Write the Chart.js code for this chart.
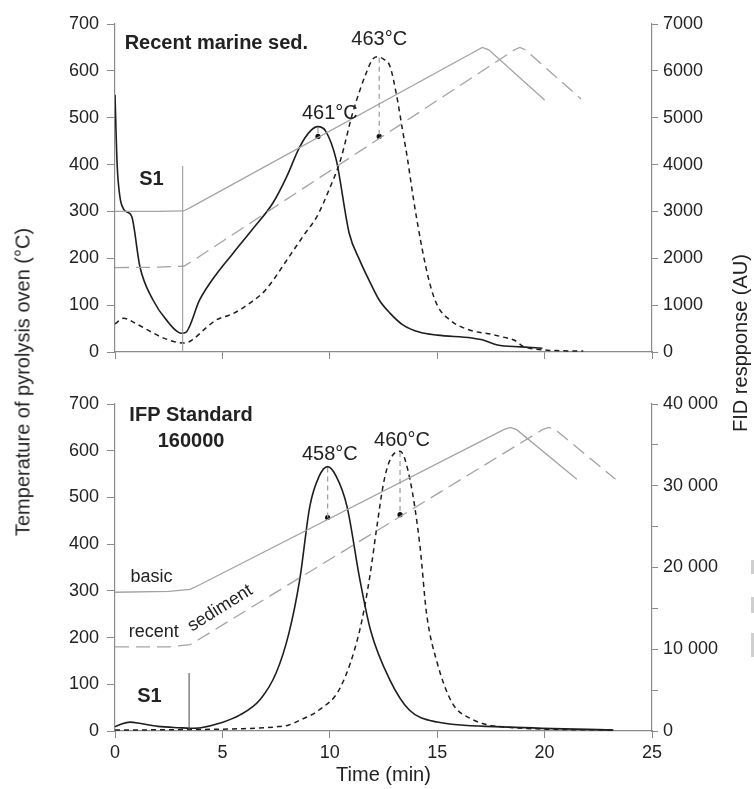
<!DOCTYPE html>
<html>
<head>
<meta charset="utf-8">
<script src="https://cdn.jsdelivr.net/npm/chart.js@4.4.0/dist/chart.umd.min.js"></script>
<style>
  html, body { margin: 0; padding: 0; background: #fff; }
  #wrap { position: relative; width: 754px; height: 789px; overflow: hidden; font-family: "Liberation Sans", Arial, sans-serif; color: #222; }
  .panel { position: absolute; left: 0; width: 754px; }
  .vtitle { position: absolute; font-size: 20px; white-space: nowrap; transform: translate(-50%, -50%) rotate(-90deg); }
  .stub { position: absolute; left: 751px; width: 3px; background: #cfcfcf; }
</style>
</head>
<body>
<div id="wrap">
  <div class="panel" style="top:0;height:380px"><canvas id="topChart"></canvas></div>
  <div class="panel" style="top:380px;height:409px"><canvas id="bottomChart"></canvas></div>
  <div class="vtitle" style="left:23px;top:382px">Temperature of pyrolysis oven (°C)</div>
  <div class="vtitle" style="left:740px;top:343px">FID respponse (AU)</div>
  <div class="stub" style="top:560px;height:14px"></div>
  <div class="stub" style="top:597px;height:16px"></div>
  <div class="stub" style="top:633px;height:24px"></div>
</div>
<script>
// ---- top panel: recent marine sediment ----
const topBasicTime = [0, 2.0, 3.2, 3.5, 16.9, 17.1, 17.4, 20.0];
const topBasicTemp = [300, 300, 301, 308, 645, 650, 645, 538];
const topRecentTime = [0, 2.0, 3.2, 3.6, 18.6, 18.85, 19.1, 21.7];
const topRecentTemp = [180, 181, 183, 194, 645, 650, 645, 540];

const topFidTime = [0, 0.1, 0.23, 0.4, 0.55, 0.78, 1.16, 1.77, 2.4, 3.1, 3.3, 3.94, 4.7, 5.5, 6.4, 7.35, 8.0, 8.6, 9.1, 9.45, 9.8, 10.3, 10.9, 11.4, 11.86, 12.3, 12.8, 13.4, 14.2, 15.0, 16.6, 17.1, 17.8, 18.9, 19.9];
const topFidSolid = [5490, 4000, 3310, 3050, 2990, 2890, 1820, 1110, 680, 400, 420, 1110, 1650, 2110, 2620, 3180, 3750, 4380, 4720, 4810, 4720, 4100, 2540, 1950, 1500, 1110, 830, 580, 420, 360, 300, 260, 150, 110, 80];

const topDashTime = [0, 0.4, 1.0, 1.6, 2.3, 3.25, 3.6, 4.2, 4.7, 5.5, 6.3, 7.0, 8.1, 8.8, 9.4, 10.0, 10.5, 11.07, 11.7, 12.0, 12.2, 12.5, 12.8, 13.1, 13.4, 13.6, 13.9, 14.3, 14.65, 15.0, 15.6, 16.5, 17.5, 18.05, 18.6, 19.0, 19.6, 20.5, 21.8];
const topFidDashed = [600, 720, 600, 450, 290, 190, 260, 500, 680, 820, 1050, 1320, 2030, 2500, 2890, 3500, 4100, 5110, 5960, 6250, 6300, 6250, 6100, 5500, 4700, 4170, 3250, 2200, 1470, 1000, 680, 470, 380, 320, 250, 120, 60, 30, 20];

// ---- bottom panel: IFP standard 160000 ----
const botBasicTime = [0, 2.5, 3.5, 3.9, 18.1, 18.4, 18.7, 21.5];
const botBasicTemp = [297, 299, 303, 312, 645, 650, 645, 539];
const botRecentTime = [0, 2.5, 3.5, 3.9, 19.9, 20.2, 20.5, 23.3];
const botRecentTemp = [180, 180, 185, 196, 645, 650, 645, 539];

const botFidTime = [0, 0.3, 0.7, 1.2, 2.0, 3.0, 3.5, 4.0, 4.9, 5.8, 6.75, 7.5, 8.1, 8.6, 9.07, 9.5, 9.9, 10.3, 10.8, 11.4, 11.9, 12.8, 13.7, 15.0, 18.0, 23.2];
const botFidSolid = [510, 860, 1090, 910, 570, 400, 340, 400, 970, 1940, 3830, 7090, 12000, 18510, 27480, 31140, 32340, 31140, 27480, 18510, 12290, 6230, 2570, 1090, 510, 110];

const botDashTime = [0, 3.0, 6.0, 7.5, 8.1, 8.6, 9.5, 10.5, 11.4, 11.86, 12.2, 12.5, 12.8, 13.27, 13.73, 14.2, 14.5, 15.0, 15.7, 16.5, 18.0, 23.2];
const botFidDashed = [110, 170, 290, 510, 740, 1310, 2570, 5370, 12400, 18860, 25140, 30290, 33140, 34230, 30800, 22570, 14460, 8340, 3430, 1600, 510, 110];

// peak markers: time, peak temp level (left axis), dot temp
const topPeakTime = [9.45, 12.3];
const topPeakTop = [478, 628];
const topPeakDot = [460, 460];
const botPeakTime = [9.9, 13.27];
const botPeakTop = [564, 597];
const botPeakDot = [457, 463];

// S1 boundary lines: time, top temp
const topS1 = [3.15, 397];
const botS1 = [3.45, 124];

const topNotes = [
  { text: 'Recent marine sed.', x: 0.45, y: 659, bold: true, align: 'left' },
  { text: '463°C', x: 12.3, y: 666 },
  { text: '461°C', x: 10.0, y: 510 },
  { text: 'S1', x: 1.7, y: 369, bold: true }
];
const botNotes = [
  { text: 'IFP Standard', x: 3.54, y: 676, bold: true },
  { text: '160000', x: 3.54, y: 619, bold: true },
  { text: '458°C', x: 10.0, y: 591 },
  { text: '460°C', x: 13.36, y: 621 },
  { text: 'basic', x: 1.7, y: 330, size: 18 },
  { text: 'recent', x: 1.8, y: 212, size: 18 },
  { text: 'sediment', x: 4.9, y: 263, size: 18, rot: -32 },
  { text: 'S1', x: 1.6, y: 73, bold: true }
];

const pts = (xs, ys) => xs.map((x, i) => ({ x, y: ys[i] }));
const FONT = '"Liberation Sans", Arial, sans-serif';
const AXIS = '#8a8a8a';

function notesPlugin(notes) {
  return {
    id: 'notes',
    afterDatasetsDraw(chart) {
      const { ctx, scales } = chart;
      notes.forEach(n => {
        const px = scales.x.getPixelForValue(n.x);
        const py = scales.y.getPixelForValue(n.y);
        ctx.save();
        ctx.font = (n.bold ? 'bold ' : '') + (n.size || 20) + 'px ' + FONT;
        ctx.fillStyle = '#222';
        ctx.textAlign = n.align || 'center';
        ctx.textBaseline = 'middle';
        ctx.translate(px, py);
        if (n.rot) ctx.rotate(n.rot * Math.PI / 180);
        ctx.fillText(n.text, 0, 0);
        ctx.restore();
      });
    }
  };
}

function lineSet(data, axis, color, width, dash, smooth) {
  return {
    data, yAxisID: axis, borderColor: color, borderWidth: width, borderDash: dash || [],
    pointRadius: 0, fill: false, tension: 0,
    cubicInterpolationMode: smooth ? 'monotone' : 'default'
  };
}

function makePanel(id, cfg) {
  const datasets = [
    lineSet(pts(cfg.basicT, cfg.basicY), 'y', '#a3a3a3', 1.3),
    lineSet(pts(cfg.recentT, cfg.recentY), 'y', '#a3a3a3', 1.3, [14, 7]),
    lineSet(pts([cfg.s1[0], cfg.s1[0]], [0, cfg.s1[1]]), 'y', cfg.s1Color, 1.1),
    lineSet(pts(cfg.fidT, cfg.fidY), 'y2', '#1e1e1e', 1.6, [], true),
    lineSet(pts(cfg.dashT, cfg.dashY), 'y2', '#1e1e1e', 1.5, [5, 4], true)
  ];
  cfg.peakT.forEach((t, i) => {
    datasets.push(lineSet(pts([t, t], [cfg.peakTop[i], cfg.peakDot[i]]), 'y', '#9a9a9a', 1.2, [5, 4]));
  });
  datasets.push({
    type: 'scatter', data: pts(cfg.peakT, cfg.peakDot), yAxisID: 'y',
    pointRadius: 2.6, pointBackgroundColor: '#111', pointBorderWidth: 0
  });

  const tickFont = { family: FONT, size: 18 };
  return new Chart(document.getElementById(id).getContext('2d'), {
    type: 'line',
    data: { datasets },
    options: {
      responsive: true, maintainAspectRatio: false, animation: false,
      layout: { padding: { top: 24, left: 0, right: 0, bottom: 0 } },
      plugins: { legend: { display: false }, tooltip: { enabled: false } },
      scales: {
        x: {
          type: 'linear', min: 0, max: 25,
          ticks: { stepSize: 5, color: '#222', font: tickFont, padding: 4, maxRotation: 0,
            callback: v => cfg.showX ? v : '' },
          grid: { drawOnChartArea: false, color: AXIS, tickLength: 7 },
          border: { color: AXIS, width: 1.2 },
          title: { display: cfg.showX, text: 'Time (min)', color: '#222', font: { family: FONT, size: 20 }, padding: { top: 0, bottom: 2 } },
          afterFit: s => { s.height = cfg.xHeight; }
        },
        y: {
          position: 'left', min: 0, max: 700,
          ticks: { stepSize: 100, color: '#222', font: tickFont, padding: 8 },
          grid: { drawOnChartArea: false, color: AXIS, tickLength: 8 },
          border: { color: AXIS, width: 1.2 },
          afterFit: s => { s.width = 115; }
        },
        y2: {
          position: 'right', min: 0, max: cfg.rightMax,
          ticks: { stepSize: cfg.rightStep, color: '#222', font: tickFont, padding: 5, callback: cfg.rightLabel },
          grid: { drawOnChartArea: false, color: AXIS, tickLength: 6 },
          border: { color: AXIS, width: 1.2 },
          afterFit: s => { s.width = 102; }
        }
      }
    },
    plugins: [notesPlugin(cfg.notes)]
  });
}

makePanel('topChart', {
  basicT: topBasicTime, basicY: topBasicTemp, recentT: topRecentTime, recentY: topRecentTemp,
  fidT: topFidTime, fidY: topFidSolid, dashT: topDashTime, dashY: topFidDashed,
  peakT: topPeakTime, peakTop: topPeakTop, peakDot: topPeakDot,
  s1: topS1, s1Color: '#9a9a9a', notes: topNotes,
  showX: false, xHeight: 28, rightMax: 7000, rightStep: 1000,
  rightLabel: v => String(v)
});

makePanel('bottomChart', {
  basicT: botBasicTime, basicY: botBasicTemp, recentT: botRecentTime, recentY: botRecentTemp,
  fidT: botFidTime, fidY: botFidSolid, dashT: botDashTime, dashY: botFidDashed,
  peakT: botPeakTime, peakTop: botPeakTop, peakDot: botPeakDot,
  s1: botS1, s1Color: '#555', notes: botNotes,
  showX: true, xHeight: 58, rightMax: 40000, rightStep: 5000,
  rightLabel: v => v === 0 ? '0' : (v % 10000 === 0 ? (v / 1000) + ' 000' : '')
});
</script>
</body>
</html>
